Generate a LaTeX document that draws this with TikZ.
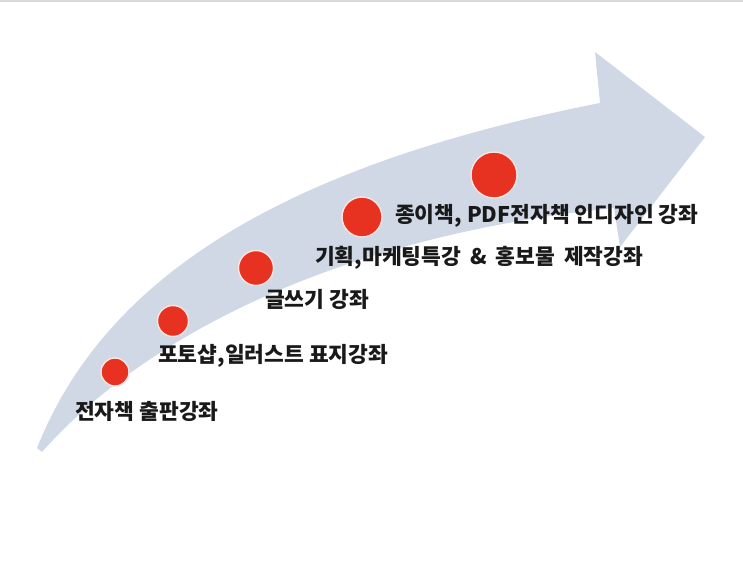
\documentclass[tikz,border=0pt]{standalone}
\usepackage{fontspec}
\newfontfamily\kr{Noto Sans CJK KR}
\usetikzlibrary{positioning}
\definecolor{bandblue}{RGB}{208,216,230}
\definecolor{dotred}{RGB}{231,50,34}
\definecolor{dotring}{RGB}{252,228,224}
\tikzset{
  band/.style ={fill=bandblue, draw=none},
  dot/.style  ={circle, fill=dotred, draw=dotring, line width=1.4pt, inner sep=0pt},
  lbl/.style  ={anchor=west, inner sep=0pt, text=black!90,
                font=\kr\bfseries\fontsize{21.5}{24}\selectfont}
}

\begin{document}
\begin{tikzpicture}[x=1pt, y=-1pt]
    \useasboundingbox (0,0) rectangle (743,561);
    \fill[black!15] (0,0) rectangle (743,2);
    % curved arrow
    \fill[band] (37,448) .. controls (100,290) and (260,170) .. (600,103)
        -- (595,52) -- (705,137) -- (620,247) -- (614,208)
        .. controls (350,235) and (150,330) .. (42,452) -- cycle;
    % steps
    \node[dot, minimum size=28pt] (s1) at (115,372) {};
    \node[dot, minimum size=31pt] (s2) at (173,321) {};
    \node[dot, minimum size=35pt] (s3) at (256,268) {};
    \node[dot, minimum size=40pt] (s4) at (362,217) {};
    \node[dot, minimum size=46pt] (s5) at (494,175) {};
    \node[lbl] (l1) at (75,411) {전자책 출판강좌};
    \node[lbl] (l2) at (158,356) {포토샵,일러스트 표지강좌};
    \node[lbl] (l3) at (265,299) {글쓰기 강좌};
    \node[lbl] (l4) at (315,258) {\spaceskip=9pt 기획,마케팅특강 \& 홍보물 제작강좌};
    \node[lbl] (l5) at (395,216) {종이책, PDF전자책 인디자인 강좌};
  \end{tikzpicture}
\end{document}
